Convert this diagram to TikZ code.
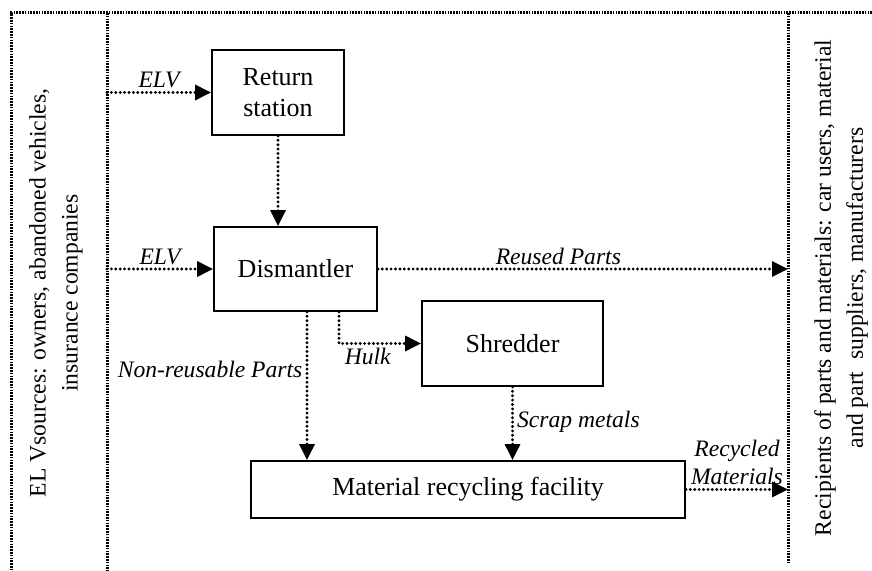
\documentclass[tikz,border=0pt]{standalone}
\usepackage{fontspec}
\setmainfont{Liberation Serif}
\usetikzlibrary{arrows.meta}
\begin{document}
\begin{tikzpicture}[x=0.5pt,y=-0.5pt,
  stage/.style={draw,line width=0.9pt,font=\fontsize{13}{15.5}\selectfont,align=center,inner sep=0pt},
  flow/.style={line width=1.6pt,dash pattern=on 0pt off 2.2pt,line cap=round,-{Triangle[length=8pt,width=7.5pt]}},
  border/.style={line width=1.5pt,dash pattern=on 0.8pt off 0.6pt},
  tag/.style={font=\fontsize{11.8}{14}\selectfont\itshape,inner sep=1.5pt},
  side/.style={rotate=90,align=center,font=\fontsize{11.8}{16}\selectfont}]
  \useasboundingbox (0,0) rectangle (872,571);
  \coordinate (corner) at (11,13);
  \coordinate (src) at (107,13);
  \coordinate (rcv) at (788,13);
  \draw[border] (872,13) -- (corner) -- (11,571);
  \draw[border] (src) -- (107,571);
  \draw[border] (rcv) -- (788,562);
  \node[side] (sources) at (56,293) {EL Vsources: owners, abandoned vehicles,\\insurance companies};
  \node[side] (recipients) at (841,288) {Recipients of parts and materials: car users, material\\and part~ suppliers, manufacturers};
  \node[stage,minimum width=66pt,minimum height=42.5pt] (return) at (278,92.5) {Return\\station};
  \node[stage,minimum width=81.5pt,minimum height=42pt] (dismantler) at (295.5,269) {Dismantler};
  \node[stage,minimum width=90.5pt,minimum height=42.5pt] (shredder) at (512.5,343.5) {Shredder};
  \node[stage,minimum width=217pt,minimum height=28.5pt] (facility) at (468,489.5) {Material recycling facility};
  \draw[flow] (src |- return) -- node[tag,above] {ELV} (return);
  \draw[flow] (src |- dismantler) -- node[tag,above] {ELV} (dismantler);
  \draw[flow] (return.south) -- (return.south |- dismantler.north);
  \draw[flow] (dismantler) -- node[tag,above,pos=0.44] {Reused Parts} (rcv |- dismantler);
  \draw[flow] ([xshift=5.75pt]dismantler.south) -- node[tag,left,pos=0.39] {Non-reusable Parts} ([xshift=5.75pt]dismantler.south |- facility.north);
  \draw[flow] ([xshift=21.75pt]dismantler.south) |- node[tag,below,pos=0.675] {Hulk} (shredder);
  \draw[flow] (shredder) -- node[tag,right,pos=0.48] {Scrap metals} (shredder.south |- facility.north);
  \draw[flow] (facility) -- node[tag,above,align=center] {Recycled\\Materials} (rcv |- facility);
\end{tikzpicture}
\end{document}
